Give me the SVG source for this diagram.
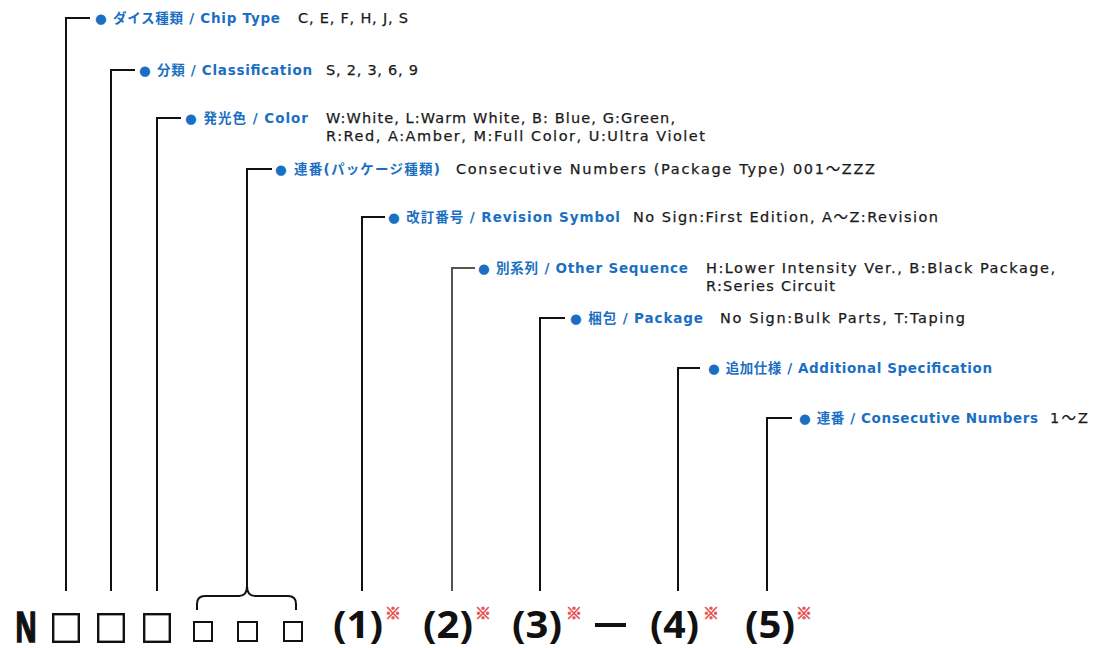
<svg xmlns="http://www.w3.org/2000/svg" width="1103" height="648" viewBox="0 0 1103 648">
<style>
.lbl{font-family:"DejaVu Sans","Noto Sans CJK JP",sans-serif;font-size:13.5px;font-weight:bold;fill:#1b6fc2}
.val{font-family:"DejaVu Sans","Noto Sans CJK JP",sans-serif;font-size:14.5px;fill:#1a1a1a;stroke:#1a1a1a;stroke-width:0.25}
.ln{fill:none;stroke:#111;stroke-width:2}
.big{font-family:"Noto Sans","Liberation Sans",sans-serif;font-weight:bold;fill:#111}
.kome{font-family:"Noto Sans CJK JP",sans-serif;font-size:16px;font-weight:bold;fill:#e65454;stroke:#e65454;stroke-width:0.8}
.box{fill:none;stroke:#111;stroke-width:2.4}
.sbox{fill:none;stroke:#111;stroke-width:2}
</style>
<rect width="1103" height="648" fill="#fff"/>
<g id="connectors">
<polyline class="ln" points="90,18 66,18 66,591"/>
<polyline class="ln" points="135,70 111,70 111,591"/>
<polyline class="ln" points="181,118 157,118 157,591"/>
<polyline class="ln" points="272,169 247,169 247,588"/>
<path class="ln" d="M197,610 L197,604 Q197,596 205,596 L239,596 Q247,596 247,586 Q247,596 255,596 L288,596 Q296,596 296,604 L296,610"/>
<polyline class="ln" points="385,217 362,217 362,591"/>
<polyline class="ln" points="475,268 452,268 452,591" style="stroke:#555"/>
<polyline class="ln" points="565,318 540,318 540,591"/>
<polyline class="ln" points="700,368 678,368 678,591"/>
<polyline class="ln" points="792,418 767,418 767,591"/>
</g>
<g id="n1"><text class="lbl" x="95" y="23" textLength="185">● ダイス種類 / Chip Type</text><text class="val" x="298" y="23" textLength="110">C, E, F, H, J, S</text></g>
<g id="n2"><text class="lbl" x="139" y="75" textLength="173">● 分類 / Classification</text><text class="val" x="326" y="75" textLength="92">S, 2, 3, 6, 9</text></g>
<g id="n3"><text class="lbl" x="185" y="123" textLength="123">● 発光色 / Color</text><text class="val" x="326" y="123" textLength="349">W:White, L:Warm White, B: Blue, G:Green,</text><text class="val" x="326" y="141" textLength="379">R:Red, A:Amber, M:Full Color, U:Ultra Violet</text></g>
<g id="n4"><text class="lbl" x="275" y="174" textLength="165">● 連番(パッケージ種類)</text><text class="val" x="456" y="174" textLength="419">Consecutive Numbers (Package Type)  001～ZZZ</text></g>
<g id="n5"><text class="lbl" x="388" y="222" textLength="232">● 改訂番号 / Revision Symbol</text><text class="val" x="633" y="222" textLength="305">No Sign:First Edition, A～Z:Revision</text></g>
<g id="n6"><text class="lbl" x="478" y="273" textLength="210">● 別系列 / Other Sequence</text><text class="val" x="706" y="273" textLength="349">H:Lower Intensity Ver., B:Black Package,</text><text class="val" x="706" y="291" textLength="129">R:Series Circuit</text></g>
<g id="n7"><text class="lbl" x="570" y="323" textLength="133">● 梱包 / Package</text><text class="val" x="720" y="323" textLength="245">No Sign:Bulk Parts, T:Taping</text></g>
<g id="n8"><text class="lbl" x="708" y="373" textLength="284">● 追加仕様 / Additional Specification</text></g>
<g id="n9"><text class="lbl" x="799" y="423" textLength="239">● 連番 / Consecutive Numbers</text><text class="val" x="1050" y="423" textLength="38">1～Z</text></g>
<g id="code">
<text class="big" x="15" y="642" font-size="41" textLength="22" lengthAdjust="spacingAndGlyphs" stroke="#111" stroke-width="1.6">N</text>
<rect class="box" x="53.2" y="614.2" width="25.6" height="27.6"/>
<rect class="box" x="98.2" y="614.2" width="25.6" height="27.6"/>
<rect class="box" x="144.2" y="614.2" width="25.6" height="27.6"/>
<rect class="sbox" x="194" y="622" width="18" height="19"/>
<rect class="sbox" x="238" y="622" width="19" height="19"/>
<rect class="sbox" x="284" y="622" width="18" height="19"/>
<text class="big" x="333" y="638" font-size="38" textLength="50" lengthAdjust="spacingAndGlyphs">(1)</text><text class="kome" x="385" y="619">※</text>
<text class="big" x="423" y="638" font-size="38" textLength="50" lengthAdjust="spacingAndGlyphs">(2)</text><text class="kome" x="475" y="619">※</text>
<text class="big" x="512" y="638" font-size="38" textLength="50" lengthAdjust="spacingAndGlyphs">(3)</text><text class="kome" x="566" y="619">※</text>
<rect x="595" y="623" width="31" height="4" fill="#111"/>
<text class="big" x="650" y="638" font-size="38" textLength="49" lengthAdjust="spacingAndGlyphs">(4)</text><text class="kome" x="703" y="619">※</text>
<text class="big" x="745" y="638" font-size="38" textLength="50" lengthAdjust="spacingAndGlyphs">(5)</text><text class="kome" x="796" y="619">※</text>
</g>
</svg>
